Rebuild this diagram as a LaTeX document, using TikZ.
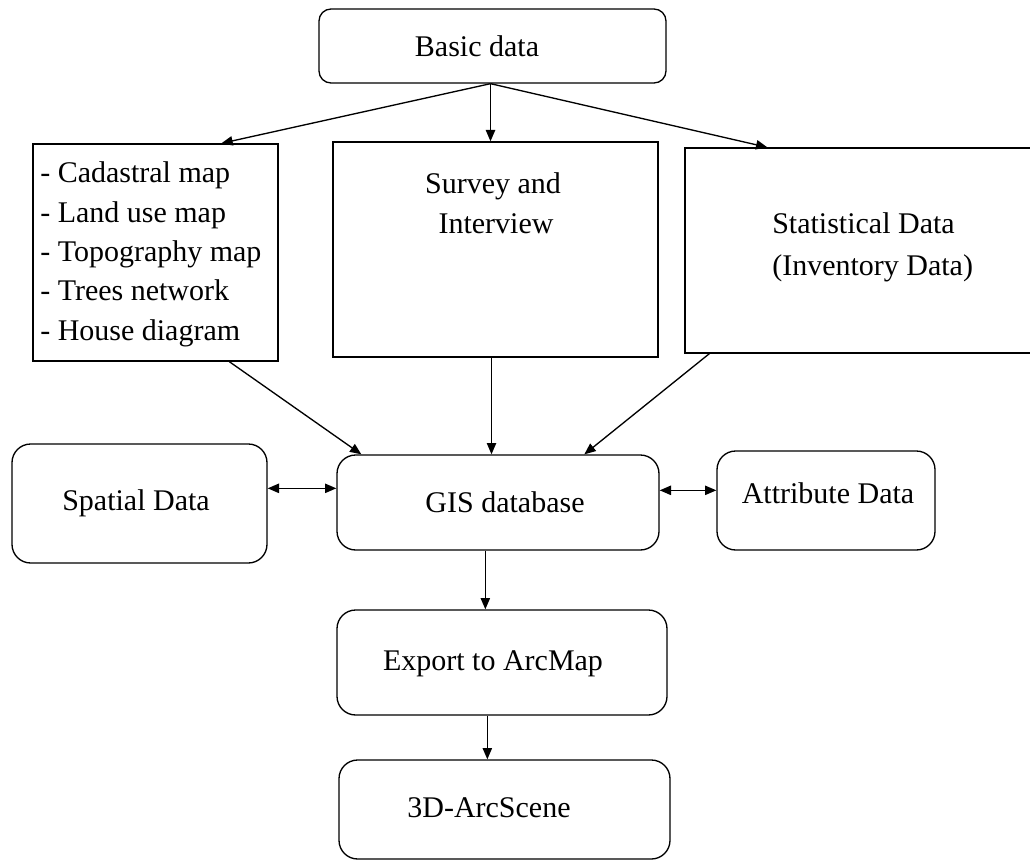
\documentclass[tikz,border=0pt]{standalone}
\usepackage{fontspec}
\setmainfont{Liberation Serif}
\usetikzlibrary{arrows.meta,calc,fit}
\begin{document}
\begin{tikzpicture}[x=0.75pt,y=-0.75pt,
  sqbox/.style={draw, line width=1pt, inner sep=0pt},
  rbox/.style={sqbox, rounded corners=14pt},
  txt/.style={font=\fontsize{22.5}{30}\selectfont, inner sep=0pt, anchor=base},
  ltxt/.style={txt, anchor=base west},
  arr/.style={line width=1pt, -{Triangle[length=8.5pt,width=7pt]}},
  darr/.style={line width=1pt, {Triangle[length=8.5pt,width=7pt]}-{Triangle[length=8.5pt,width=7pt]}}]
\useasboundingbox (0,0) rectangle (1030,863);
\clip (0,0) rectangle (1030,863);
% boxes
\node[sqbox, rounded corners=9pt, fit={(319,9) (666,83)}] (basic) {};
\node[sqbox, fit={(33,144) (278,361)}] (left) {};
\node[sqbox, fit={(333,142) (658,357)}] (mid) {};
\node[sqbox, fit={(685,148) (1045,353)}] (right) {};
\node[rbox, fit={(12,444) (267,563)}] (spatial) {};
\node[rbox, fit={(337,455) (659,550)}] (gis) {};
\node[rbox, fit={(717,451) (935,550)}] (attr) {};
\node[rbox, fit={(337,610) (667,715)}] (export) {};
\node[rbox, fit={(339,760) (670,859)}] (scene) {};
% texts
\node[txt] (tbasic) at (477,57) {Basic data};
\node[ltxt] (l1) at (40,182) {- Cadastral map};
\node[ltxt] (l2) at (40,222) {- Land use map};
\node[ltxt] (l3) at (40,261) {- Topography map};
\node[ltxt] (l4) at (40,300) {- Trees network};
\node[ltxt] (l5) at (40,340) {- House diagram};
\node[txt] (m1) at (493,193) {Survey and};
\node[txt] (m2) at (496,233) {Interview};
\node[ltxt] (r1) at (772,233) {Statistical Data};
\node[ltxt] (r2) at (772,275) {(Inventory Data)};
\node[txt] (tspatial) at (136,510) {Spatial Data};
\node[txt] (tgis) at (505,512) {GIS database};
\node[txt] (tattr) at (828,503) {Attribute Data};
\node[txt] (texport) at (493,670) {Export to ArcMap};
\node[txt] (tscene) at (489,817) {3D-ArcScene};
% connectors
\coordinate (b0) at ($(basic.south)+(-2,0)$);
\draw[arr] (b0) -- ($(left.north west)+(189,0)$);
\draw[arr] (b0) -- (b0 |- mid.north);
\draw[arr] (b0) -- ($(right.north west)+(83,0)$);
\draw[arr] ($(left.south west)+(197,0)$) -- ($(gis.north west)+(25,0)$);
\coordinate (m0) at ($(mid.south)+(-4,0)$);
\draw[arr] (m0) -- (m0 |- gis.north);
\draw[arr] ($(right.south west)+(25,0)$) -- ($(gis.north west)+(248,0)$);
\coordinate (s0) at ($(spatial.north east)+(0,45)$);
\draw[darr] (s0) -- (s0 -| gis.west);
\coordinate (a0) at ($(attr.north west)+(0,40)$);
\draw[darr] (a0 -| gis.east) -- (a0);
\coordinate (g0) at ($(gis.south west)+(149,0)$);
\draw[arr] (g0) -- (g0 |- export.north);
\coordinate (e0) at ($(export.south west)+(151,0)$);
\draw[arr] (e0) -- (e0 |- scene.north);
\end{tikzpicture}
\end{document}
